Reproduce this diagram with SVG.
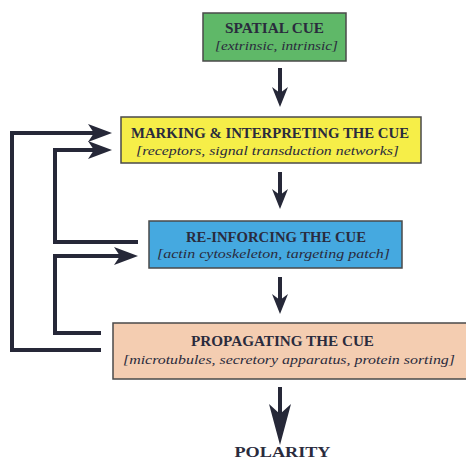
<svg xmlns="http://www.w3.org/2000/svg" width="466" height="459" viewBox="0 0 466 459">
<style>
.box{stroke:#4a4a4a;stroke-width:1.5}
.t{font-family:"Liberation Serif","DejaVu Serif",serif;font-weight:bold;font-size:14px;fill:#2a2b3d;text-anchor:middle}
.s{font-family:"Liberation Serif","DejaVu Serif",serif;font-style:italic;font-size:13px;fill:#2a2b3d;text-anchor:middle}
.ln{fill:none;stroke:#262838;stroke-width:4}
.hd{fill:#262838}
</style>
<defs>
<path id="rh" d="M0,0 L-24,-9 L-18,0 L-24,9 Z"/>
<path id="dh" d="M0,0 L-8,-20 L0,-14 L8,-20 Z"/>
</defs>
<rect width="466" height="459" fill="#ffffff"/>
<g id="spatial-cue">
<rect class="box" x="203" y="13" width="143" height="48" fill="#5fb868"/>
<text class="t" x="274.5" y="33" textLength="99" lengthAdjust="spacingAndGlyphs">SPATIAL CUE</text>
<text class="s" x="276.5" y="50" textLength="123" lengthAdjust="spacingAndGlyphs">[extrinsic, intrinsic]</text>
</g>
<g id="marking">
<rect class="box" x="121" y="117" width="300" height="46" fill="#f6ee48"/>
<text class="t" x="270" y="138" textLength="278" lengthAdjust="spacingAndGlyphs">MARKING &amp; INTERPRETING THE CUE</text>
<text class="s" x="267.5" y="155" textLength="263" lengthAdjust="spacingAndGlyphs">[receptors, signal transduction networks]</text>
</g>
<g id="reinforcing">
<rect class="box" x="149" y="221" width="253" height="47" fill="#45a9e0"/>
<text class="t" x="276" y="242" textLength="180" lengthAdjust="spacingAndGlyphs">RE-INFORCING THE CUE</text>
<text class="s" x="273.5" y="258" textLength="233" lengthAdjust="spacingAndGlyphs">[actin cytoskeleton, targeting patch]</text>
</g>
<g id="propagating">
<rect class="box" x="113" y="323" width="356" height="56" fill="#f4cdb1"/>
<text class="t" x="282.5" y="346" textLength="183" lengthAdjust="spacingAndGlyphs">PROPAGATING THE CUE</text>
<text class="s" x="289" y="364" textLength="332" lengthAdjust="spacingAndGlyphs">[microtubules, secretory apparatus, protein sorting]</text>
</g>
<g id="polarity">
<text class="t" x="282.5" y="457" font-size="18" textLength="96" lengthAdjust="spacingAndGlyphs">POLARITY</text>
</g>
<g id="connectors">
<line class="ln" x1="280" y1="68" x2="280" y2="96"/>
<use href="#dh" class="hd" transform="translate(280,107)"/>
<line class="ln" x1="280" y1="172" x2="280" y2="198"/>
<use href="#dh" class="hd" transform="translate(280,209)"/>
<line class="ln" x1="280" y1="277" x2="280" y2="303"/>
<use href="#dh" class="hd" transform="translate(280,314)"/>
<line class="ln" x1="280" y1="387" x2="280" y2="420" stroke-width="9"/>
<path class="hd" d="M280,445 L269,404 L280,414 L291,404 Z"/>
<path class="ln" d="M101,350 H12 V133 H96"/>
<use href="#rh" class="hd" transform="translate(112,133)"/>
<path class="ln" d="M138,242 H55 V150 H96"/>
<use href="#rh" class="hd" transform="translate(112,150)"/>
<path class="ln" d="M101,333 H55 V256 H124"/>
<use href="#rh" class="hd" transform="translate(138,256)"/>
</g>
</svg>
